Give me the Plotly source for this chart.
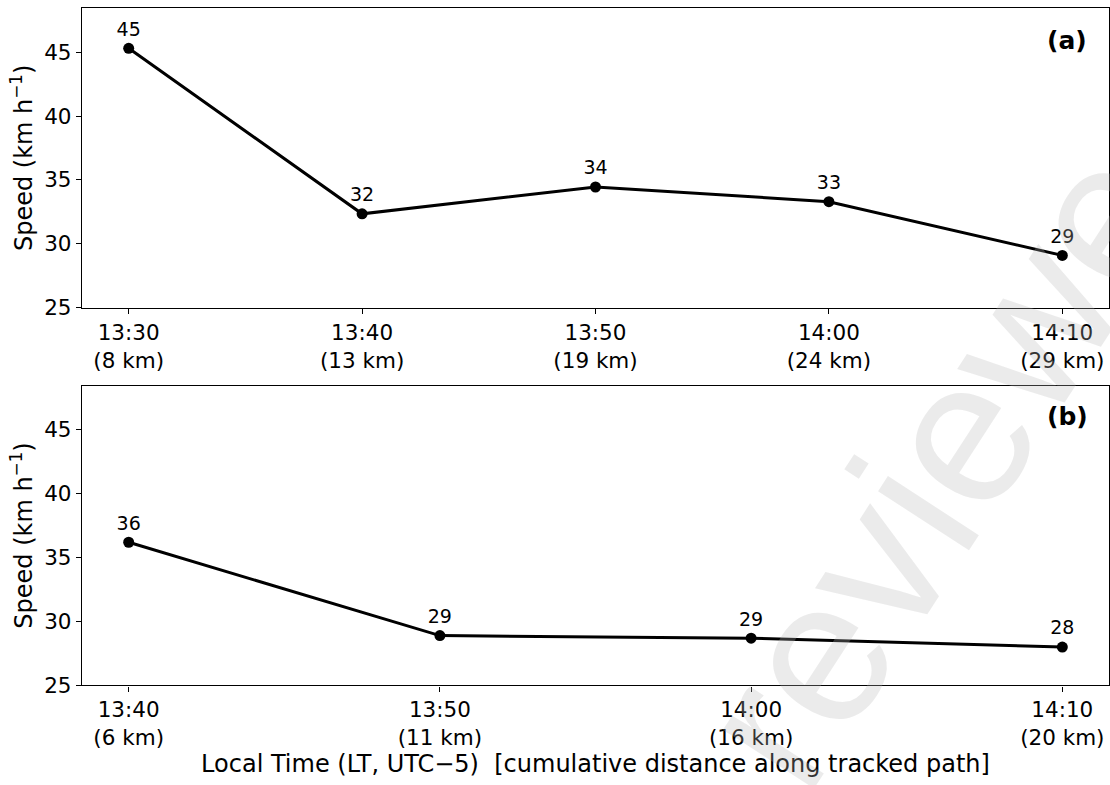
import plotly.graph_objects as go

# Panel (a)
times_a = ["13:30", "13:40", "13:50", "14:00", "14:10"]
dist_a = ["8 km", "13 km", "19 km", "24 km", "29 km"]
speed_a = [45.3, 32.35, 34.45, 33.3, 29.1]

# Panel (b)
times_b = ["13:40", "13:50", "14:00", "14:10"]
dist_b = ["6 km", "11 km", "16 km", "20 km"]
speed_b = [36.2, 28.9, 28.7, 28.0]

yticks = [25, 30, 35, 40, 45]

FONT = "DejaVu Sans"
W, H = 1110, 785

fig = go.Figure()

def add_panel(times, dists, speeds, xa, ya):
    idx = list(range(len(times)))
    fig.add_trace(go.Scatter(
        x=idx, y=speeds, mode="lines+markers+text",
        text=[f"{round(v):d}" for v in speeds],
        textposition="top center",
        textfont=dict(family=FONT, size=19, color="black"),
        line=dict(color="black", width=3),
        marker=dict(color="black", size=11),
        xaxis=xa, yaxis=ya, showlegend=False, cliponaxis=False,
    ))

add_panel(times_a, dist_a, speed_a, "x", "y")
add_panel(times_b, dist_b, speed_b, "x2", "y2")

axis_common = dict(showline=True, linecolor="black", linewidth=1.3, mirror=True,
                   ticks="outside", ticklen=5, tickwidth=1.2, tickcolor="black",
                   showgrid=False, zeroline=False,
                   tickfont=dict(family=FONT, size=21.5, color="black"))

def px_x(p):
    return p / W

def px_y(p):
    return 1 - p / H

fig.update_layout(
    width=W, height=H, autosize=False,
    margin=dict(l=0, r=0, t=0, b=0),
    paper_bgcolor="white", plot_bgcolor="white",
    xaxis=dict(domain=[px_x(82), px_x(1109)], anchor="y",
               range=[-0.2, 4.2],
               tickvals=list(range(len(times_a))),
               ticktext=[f"{t}<br>({d})" for t, d in zip(times_a, dist_a)],
               **axis_common),
    yaxis=dict(domain=[px_y(313), px_y(8)], anchor="x",
               range=[25, 48.46], tickvals=yticks,
               title=dict(text="Speed (km h<sup>−1</sup>)",
                          font=dict(family=FONT, size=24, color="black"), standoff=4),
               **axis_common),
    xaxis2=dict(domain=[px_x(82), px_x(1109)], anchor="y2",
                range=[-0.15, 3.15],
                tickvals=list(range(len(times_b))),
                ticktext=[f"{t}<br>({d})" for t, d in zip(times_b, dist_b)],
                title=dict(text="Local Time (LT, UTC−5)  [cumulative distance along tracked path]",
                           font=dict(family=FONT, size=24, color="black"), standoff=2),
                **axis_common),
    yaxis2=dict(domain=[px_y(697), px_y(392)], anchor="x2",
                range=[25, 48.46], tickvals=yticks,
                title=dict(text="Speed (km h<sup>−1</sup>)",
                           font=dict(family=FONT, size=24, color="black"), standoff=4),
                **axis_common),
)

fig.add_annotation(text="<b>(a)</b>", xref="paper", yref="paper",
                   x=px_x(1067), y=px_y(41), showarrow=False,
                   xanchor="center", yanchor="middle",
                   font=dict(family=FONT, size=25, color="black"))
fig.add_annotation(text="<b>(b)</b>", xref="paper", yref="paper",
                   x=px_x(1067), y=px_y(424), showarrow=False,
                   xanchor="center", yanchor="middle",
                   font=dict(family=FONT, size=25, color="black"))

# Watermark
fig.add_annotation(text="reviewed", xref="paper", yref="paper",
                   x=px_x(970), y=px_y(425), showarrow=False, textangle=-57,
                   xanchor="center", yanchor="middle",
                   font=dict(family="Liberation Sans", size=205, color="rgba(183,183,183,0.28)"))

# Remove page margins and fit the figure height to the actual viewport
js = (
    "var d=document.documentElement,b=document.body;"
    "var vh=window.innerHeight||785;"
    "d.style.margin='0';d.style.padding='0';d.style.overflow='hidden';d.style.height=vh+'px';"
    "b.style.margin='0';b.style.padding='0';b.style.overflow='hidden';b.style.height=vh+'px';"
    "for(var i=0;i<b.children.length;i++){var c=b.children[i];"
    "if(c.tagName==='DIV'){c.style.height=vh+'px';c.style.overflow='hidden';c.style.margin='0';}}"
    "var gd=document.getElementById('{plot_id}');"
    "if(gd&&Math.abs(vh-785)>1){gd.style.height=vh+'px';Plotly.relayout(gd,{height:vh});}"
)

fig.write_html("out.html", config={"displayModeBar": False, "responsive": False},
               post_script=js)
